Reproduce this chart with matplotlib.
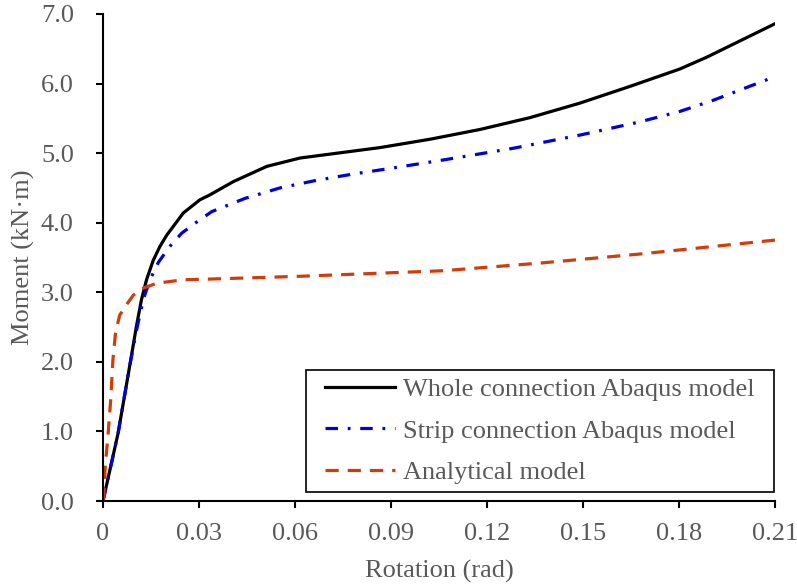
import matplotlib
matplotlib.use("Agg")
import matplotlib.pyplot as plt
from matplotlib.path import Path

plt.rcParams['font.family'] = ['Liberation Serif', 'DejaVu Serif']
plt.rcParams['lines.scale_dashes'] = False

# Data
whole_x = [0, 0.0047, 0.0083, 0.0104, 0.012, 0.0136, 0.0157, 0.0178, 0.0199, 0.0251,
           0.0303, 0.0334, 0.0407, 0.0512, 0.0616, 0.0866, 0.1022, 0.1178, 0.1334,
           0.1491, 0.1647, 0.1803, 0.1887, 0.21]
whole_y = [0, 0.97, 1.93, 2.5, 2.89, 3.18, 3.46, 3.66, 3.82, 4.14,
           4.33, 4.40, 4.59, 4.81, 4.93, 5.08, 5.20, 5.34, 5.51,
           5.72, 5.96, 6.21, 6.38, 6.86]

strip_x = [0, 0.0047, 0.0083, 0.0105, 0.0126, 0.0147, 0.0173, 0.0209, 0.0246, 0.0293,
           0.034, 0.0444, 0.0553, 0.0668, 0.0782, 0.0897, 0.1074, 0.1282, 0.1491,
           0.1678, 0.1803, 0.1907, 0.21]
strip_y = [0, 0.97, 1.93, 2.46, 2.9, 3.18, 3.43, 3.66, 3.85, 4.01,
           4.16, 4.35, 4.50, 4.61, 4.70, 4.78, 4.91, 5.07, 5.26,
           5.45, 5.60, 5.76, 6.1]

anal_x = [0, 0.0003, 0.0007, 0.0016, 0.0024, 0.0031, 0.0039, 0.0052, 0.0073, 0.0095,
          0.0126, 0.0168, 0.0251, 0.0334, 0.0616, 0.1063, 0.1366, 0.1678, 0.21]
anal_y = [0, 0.11, 0.49, 0.97, 1.45, 2.03, 2.41, 2.67, 2.82, 2.96,
          3.06, 3.13, 3.18, 3.19, 3.23, 3.31, 3.42, 3.55, 3.75]

labels = ["Whole connection Abaqus model", "Strip connection Abaqus model", "Analytical model"]
x_ticks = [0, 0.03, 0.06, 0.09, 0.12, 0.15, 0.18, 0.21]
x_tick_labels = ["0", "0.03", "0.06", "0.09", "0.12", "0.15", "0.18", "0.21"]
y_ticks = [0, 1, 2, 3, 4, 5, 6, 7]
y_tick_labels = ["0.0", "1.0", "2.0", "3.0", "4.0", "5.0", "6.0", "7.0"]

W, H = 797, 584
fig = plt.figure(figsize=(W / 100, H / 100), dpi=100)
ax = fig.add_axes([103 / W, (H - 501) / H, (775 - 103) / W, (501 - 14) / H])

txt = '#595959'
FS = 19
ax.plot(whole_x, whole_y, color='black', lw=2.3, label=labels[0], solid_joinstyle='round')
ax.plot(strip_x, strip_y, color='#0000D8', lw=2.3, label=labels[1],
        dashes=(9, 7, 2, 7))
ax.plot(anal_x, anal_y, color='#D23C0A', lw=2.3, label=labels[2],
        dashes=(9.5, 6.5))

ax.set_xlim(0, 0.21)
ax.set_ylim(0, 7.0)
ax.set_xticks(x_ticks)
ax.set_xticklabels(x_tick_labels)
ax.set_yticks(y_ticks)
ax.set_yticklabels(y_tick_labels)

for s in ['top', 'right']:
    ax.spines[s].set_visible(False)
for s in ['left', 'bottom']:
    ax.spines[s].set_linewidth(1.5)
    ax.spines[s].set_color('black')
ax.tick_params(axis='both', direction='out', length=5, width=1.5, color='black',
               labelsize=FS, labelcolor=txt)
ax.tick_params(axis='y', pad=16)
ax.tick_params(axis='x', pad=11)

ax.set_xlabel("Rotation (rad)", fontsize=FS, color=txt, labelpad=10.5)
ax.set_ylabel("Moment (kN·m)", fontsize=FS, color=txt, labelpad=4)

leg = ax.legend(loc='lower right', bbox_to_anchor=(763 / W, (H - 492) / H),
                bbox_transform=fig.transFigure, borderaxespad=0,
                fontsize=FS, frameon=True, fancybox=False, edgecolor='black',
                framealpha=1, handlelength=2.65, handletextpad=0.32,
                labelspacing=0.68, borderpad=0.3)


def wide_box(x0, y0, width, height, mutation_size):
    padx = 0.42 * mutation_size
    xa, xb = x0 - padx, x0 + width + padx
    ya, yb = y0, y0 + height
    return Path([(xa, ya), (xb, ya), (xb, yb), (xa, yb), (xa, ya)], closed=True)


frame = leg.get_frame()
frame.set_boxstyle(wide_box)
frame.set_linewidth(1.2)
for t in leg.get_texts():
    t.set_color(txt)

fig.savefig("out.png", dpi=100)
